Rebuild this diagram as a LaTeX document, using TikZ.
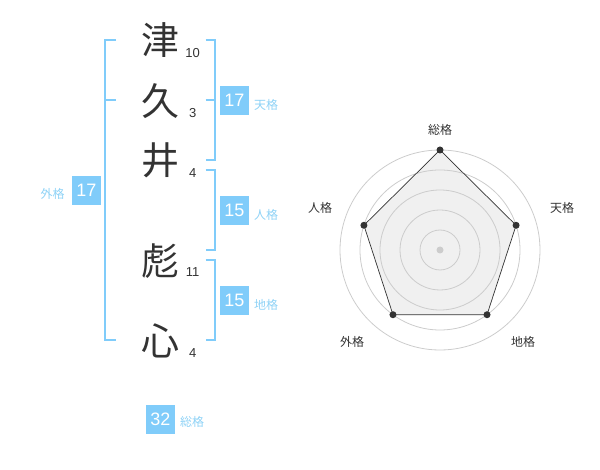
\documentclass[tikz,border=0pt]{standalone}
\usepackage{fontspec}
\usetikzlibrary{calc}
\setmainfont{Liberation Sans}
\newfontfamily\jpfont{Noto Sans CJK JP}
\definecolor{namecol}{RGB}{51,51,51}
\definecolor{boxcol}{RGB}{128,204,250}
\definecolor{labcol}{RGB}{142,210,246}
\definecolor{ringcol}{RGB}{204,204,204}
\definecolor{areacol}{RGB}{240,240,240}

\begin{document}
\begin{tikzpicture}[x=1pt,y=-1pt]
\tikzstyle{every node}+=[inner sep=0pt]
\tikzstyle{kanji}=[font=\jpfont\fontsize{38}{38}\selectfont, text=namecol]
\tikzstyle{strokes}=[font=\fontsize{13}{13}\selectfont, text=namecol]
\tikzstyle{kakubox}=[fill=boxcol, text=white, minimum width=29, minimum height=29, font=\fontsize{18}{18}\selectfont]
\tikzstyle{kakulab}=[font=\jpfont\fontsize{12}{12}\selectfont, text=labcol]
\tikzstyle{brace}=[draw=boxcol, line width=2.2]
\tikzstyle{axislab}=[font=\jpfont\fontsize{12}{12}\selectfont, text=namecol]
\tikzstyle{vtx}=[fill=namecol]
\useasboundingbox (0,0) rectangle (600,470);
\draw (160,40) node [kanji] (k1) {津};
\draw (192.7,53) node [strokes] (n1) {10};
\draw (160,101) node [kanji] (k2) {久};
\draw (192.7,113) node [strokes] (n2) {3};
\draw (160,160) node [kanji] (k3) {井};
\draw (192.7,173) node [strokes] (n3) {4};
\draw (160,261) node [kanji] (k4) {彪};
\draw (192.7,272.5) node [strokes] (n4) {11};
\draw (160,341) node [kanji] (k5) {心};
\draw (192.7,353) node [strokes] (n5) {4};
\draw [brace] (116,40) -- (105.3,40) -- (105.3,340) -- (116,340);
\draw [brace] (105.3,100) -- (116,100);
\draw [brace] (205.5,40) -- (214.7,40) -- (214.7,160) -- (205.5,160);
\draw [brace] (205.5,100) -- (214.7,100);
\draw [brace] (205.5,170) -- (214.7,170) -- (214.7,250) -- (205.5,250);
\draw [brace] (205.5,260) -- (214.7,260) -- (214.7,340) -- (205.5,340);
\draw (234.5,100.5) node [kakubox] (tenbox) {17};
\draw (266,105) node [kakulab] (tenlab) {天格};
\draw (234.5,210.5) node [kakubox] (jinbox) {15};
\draw (266,215) node [kakulab] (jinlab) {人格};
\draw (234.5,300.5) node [kakubox] (chibox) {15};
\draw (266,305) node [kakulab] (chilab) {地格};
\draw (86.5,190.5) node [kakubox] (gaibox) {17};
\draw (52.7,194) node [kakulab] (gailab) {外格};
\draw (160.5,419) node [kakubox] (soubox) {32};
\draw (192,422) node [kakulab] (soulab) {総格};
\coordinate (mid) at (440,250);
\coordinate (sou) at ($(mid)+(-90:100)$);
\coordinate (ten) at ($(mid)+(-18:80)$);
\coordinate (chi) at ($(mid)+(54:80)$);
\coordinate (gai) at ($(mid)+(126:80)$);
\coordinate (jin) at ($(mid)+(198:80)$);
\fill [areacol] (sou) -- (ten) -- (chi) -- (gai) -- (jin) -- cycle;
\foreach \r in {20,40,60,80,100}
  \draw [ringcol, line width=0.8] (mid) circle (\r);
\draw [namecol, line width=0.7] (sou) -- (ten) -- (chi) -- (gai) -- (jin) -- cycle;
\fill [ringcol] (mid) circle (3.5);
\foreach \p in {sou,ten,chi,gai,jin}
  \fill [vtx] (\p) circle (3.5);
\draw (440,130) node [axislab] (soux) {総格};
\draw (562,208) node [axislab] (tenx) {天格};
\draw (320,208) node [axislab] (jinx) {人格};
\draw (352,342) node [axislab] (gaix) {外格};
\draw (523,342) node [axislab] (chix) {地格};
\end{tikzpicture}
\end{document}
